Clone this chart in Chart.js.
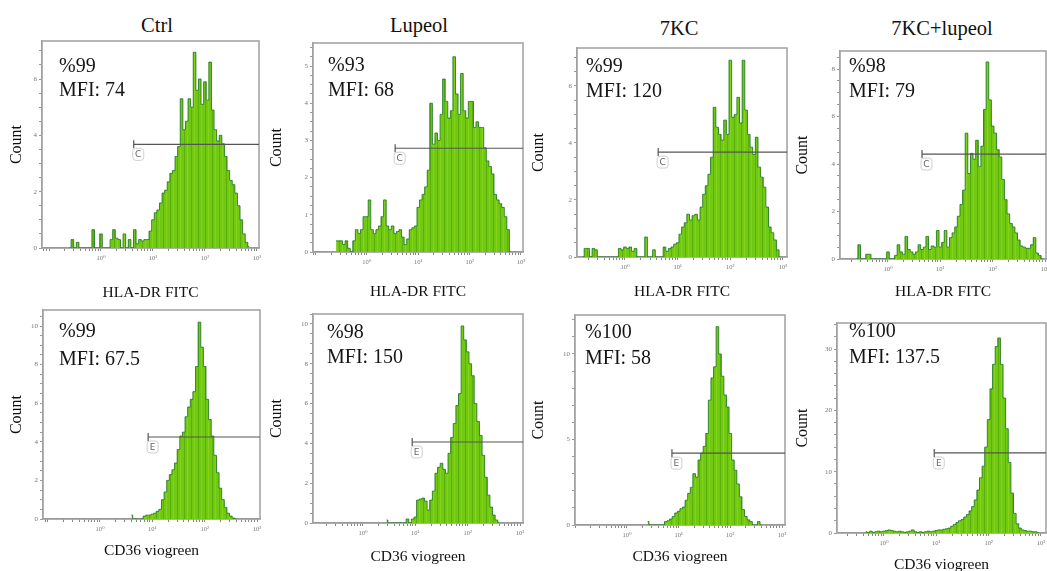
<!DOCTYPE html>
<html lang="en">
<head>
<meta charset="UTF-8">
<title>HLA-DR FITC / CD36 viogreen histograms</title>
<script src="https://cdn.jsdelivr.net/npm/chart.js"></script>
<style>
  html, body { margin: 0; padding: 0; background: #fff; overflow: hidden; }
  body { width: 1047px; height: 571px; position: relative; font-family: "Liberation Serif", "DejaVu Serif", serif; }
  canvas { position: absolute; }
  .group { position: absolute; font-size: 20.5px; color: #111; transform: translate(-50%, -50%); white-space: nowrap; }
</style>
</head>
<body>
<script>
// ---- data ----
const groups = ['Ctrl', 'Lupeol', '7KC', '7KC+lupeol'];
const markers = ['HLA-DR FITC', 'CD36 viogreen'];
const binWidth = 0.05; // in decades of fluorescence

const decadeTicks = [0, 1, 2, 3];
const decadeLabels = ['10⁰', '10¹', '10²', '10³'];

// HLA-DR FITC histograms (counts per bin, first bin at *Start)
const hlaStart = [-0.6, -0.6, -0.8, -0.6];
const hlaCtrl = [0, 0.3, 0, 0.2, 0, 0, 0, 0, 0, 0.65, 0, 0, 0.5, 0, 0, 0, 0.3, 0.65, 0.35, 0.3,
  0, 0.5, 0, 0.3, 0, 0.65, 0.15, 0.3, 0.25, 0.3, 0.3, 0.6, 1.0, 1.25, 1.35, 1.6, 1.95, 2.05, 2.35, 2.65,
  2.75, 3.25, 3.6, 5.3, 4.2, 4.5, 5.3, 5.0, 6.95, 5.6, 6.0, 5.1, 5.9, 5.25, 6.6, 4.9, 4.2, 3.8, 4.0, 3.7,
  3.25, 2.75, 2.4, 2.25, 1.95, 1.5, 1.0, 0.5, 0.2, 0.05];
const hlaLupeol = [0.3, 0.3, 0.3, 0.2, 0.3, 0.1, 0, 0.3, 0.6, 0.5, 0.6, 0.95, 0.95, 1.4, 0.6, 0.5, 0.6, 0.7, 0.95, 1.4,
  0.7, 0.6, 0.7, 0.5, 0.55, 0.6, 0.4, 0.2, 0.35, 0.6, 0.65, 0.7, 1.2, 1.4, 1.55, 1.75, 2.2, 4.0, 2.9, 3.2,
  3.0, 3.7, 4.65, 4.05, 3.6, 3.8, 5.25, 4.25, 3.7, 4.8, 3.8, 3.6, 4.05, 4.05, 3.35, 3.5, 3.35, 3.35, 2.8, 2.45,
  2.3, 2.1, 1.55, 1.4, 1.3, 1.2, 0.95, 0.6, 0];
const hla7kc = [0, 0.3, 0.3, 0, 0.3, 0.25, 0, 0, 0, 0, 0, 0, 0, 0, 0.3, 0.25, 0.35, 0.3, 0.35, 0.2,
  0.3, 0, 0, 0, 0.7, 0, 0, 0.25, 0, 0, 0, 0.35, 0.2, 0.3, 0.35, 0.45, 0.5, 0.8, 1.05, 1.2,
  1.5, 1.3, 1.45, 1.5, 1.3, 1.75, 2.2, 2.5, 2.9, 3.5, 5.25, 4.55, 4.3, 4.1, 4.8, 4.3, 6.9, 4.9, 5.0, 5.6,
  4.7, 6.9, 5.15, 4.3, 3.85, 3.6, 4.2, 3.15, 2.8, 2.45, 1.75, 1.05, 0.85, 0.6, 0.25, 0];
const hla7kcLupeol = [0, 0.6, 0, 0, 0.2, 0.2, 0, 0, 0, 0, 0, 0, 0.3, 0, 0, 0.15, 0.6, 0.3, 0.2, 0.95,
  0.4, 0.3, 0.2, 0.3, 0.6, 0.4, 0.5, 0.95, 0.4, 0.55, 0.5, 1.2, 0.5, 0.7, 1.2, 0.5, 0.9, 1.1, 1.35, 1.8,
  2.3, 2.9, 5.3, 3.6, 4.45, 4.2, 5.0, 3.9, 4.75, 6.3, 8.3, 6.7, 5.6, 5.3, 4.6, 4.3, 3.35, 2.5, 1.9, 1.5,
  1.35, 1.1, 0.8, 0.55, 0.5, 0.45, 0.45, 0.6, 0.9, 0.25, 0.15, 0];

// CD36 viogreen histograms
const cd36Start = [0.6, 0.45, 0.4, -0.35];
const cd36Ctrl = [0.2, 0, 0, 0, 0, 0.15, 0.2, 0.2, 0.25, 0.3, 0.4, 0.5, 1.0, 1.4, 2.0, 2.3, 2.55, 2.9, 3.6, 4.3,
  4.5, 5.3, 5.8, 6.2, 6.6, 7.9, 10.2, 8.9, 7.9, 6.2, 5.15, 4.3, 3.3, 2.4, 1.6, 1.0, 0.6, 0.3, 0.15, 0.05, 0];
const cd36Lupeol = [0.15, 0, 0, 0, 0, 0, 0, 0, 0.2, 0, 0.2, 0.3, 1.15, 1.2, 1.25, 1.1, 0.65, 1.15, 1.6, 2.5,
  2.8, 3.0, 2.7, 2.5, 3.5, 4.3, 5.0, 5.9, 6.5, 9.9, 9.2, 8.6, 8.0, 7.4, 6.0, 5.1, 4.4, 3.4, 2.3, 1.4,
  0.8, 0.4, 0.15, 0];
const cd367kc = [0.2, 0, 0, 0, 0, 0, 0, 0.2, 0.25, 0.35, 0.5, 0.7, 0.8, 0.95, 1.05, 1.45, 1.85, 2.2, 3.0, 2.8,
  3.8, 4.2, 4.6, 5.35, 7.3, 8.6, 9.25, 11.6, 10.0, 8.7, 7.6, 6.9, 5.35, 3.8, 3.2, 2.4, 1.65, 0.9, 0.5, 0.3,
  0.2, 0, 0, 0.2, 0];
const cd367kcLupeol = [0.2, 0.1, 0.3, 0.1, 0.2, 0.3, 0.2, 0.3, 0.4, 0.5, 0.4, 0.3, 0.2, 0.3, 0.2, 0.1, 0.2, 0.3, 0.5, 0.2,
  0.1, 0.2, 0.1, 0.2, 0.3, 0.2, 0.3, 0.4, 0.5, 0.5, 0.6, 0.7, 0.8, 1.1, 1.4, 1.7, 2.0, 2.2, 2.6, 3.0,
  3.6, 4.3, 5.4, 7.0, 9.0, 10.9, 14.0, 18.5, 23.5, 27.5, 30.4, 31.8, 27.5, 22.0, 17.0, 11.5, 6.5, 3.2, 1.5, 0.8,
  0.5, 0.4, 0.3, 0.3, 0.2, 0.2, 0];

const hlaSeries = [hlaCtrl, hlaLupeol, hla7kc, hla7kcLupeol];
const cd36Series = [cd36Ctrl, cd36Lupeol, cd367kc, cd367kcLupeol];

const hlaPercent = ['%99', '%93', '%99', '%98'];
const hlaMfi = ['74', '68', '120', '79'];
const cd36Percent = ['%99', '%98', '%100', '%100'];
const cd36Mfi = ['67.5', '150', '58', '137.5'];

// gate line: start (decades) and height (count)
const hlaGateStart = [0.63, 0.55, 0.63, 0.65];
const hlaGateLevel = [3.68, 2.79, 3.68, 4.42];
const cd36GateStart = [0.92, 0.94, 0.87, 0.96];
const cd36GateLevel = [4.25, 4.07, 4.2, 13.05];
const gateNames = ['C', 'E'];

// axis ranges
const xMin = [-1.135, -1.05, -0.911, -0.917, -1.089, -0.955, -1.006, -0.898];
const xMax = [3.04, 3.04, 3.076, 3.019, 3.057, 3.057, 3.058, 3.096];
const yMax = [7.35, 5.62, 7.33, 8.76, 10.83, 10.5, 12.28, 34.24];
const yMajor = [2, 1, 2, 2, 2, 2, 5, 10];
const yMinor = [0.5, 0.25, 0.5, 0.5, 0.5, 0.5, 1, 2];

// ---- layout (page pixels) ----
const boxes = [
  { l: 42, t: 41, r: 259, b: 248, countX: 17, xTitleY: 293 },
  { l: 313, t: 43, r: 523, b: 252, countX: 277, xTitleY: 292 },
  { l: 577, t: 48, r: 787, b: 257, countX: 539, xTitleY: 292 },
  { l: 840, t: 51, r: 1046, b: 259, countX: 803, xTitleY: 292 },
  { l: 43, t: 310, r: 260, b: 519, countX: 17, xTitleY: 551 },
  { l: 313, t: 314, r: 523, b: 523, countX: 277, xTitleY: 557 },
  { l: 575, t: 315, r: 785, b: 525, countX: 539, xTitleY: 557 },
  { l: 837, t: 323, r: 1046, b: 533, countX: 803, xTitleY: 565 }
];
const textOffsets = [
  [17, 26, 50], [15, 23, 48], [9, 19, 44], [9, 16, 41],
  [16, 22, 50], [14, 19, 44], [10, 18, 44], [12, 9, 35]
];
const groupTitlePos = [[157, 25], [419, 25], [679, 28], [942, 28]];

const serif = '"Liberation Serif", "DejaVu Serif", serif';

groups.forEach((g, i) => {
  const d = document.createElement('div');
  d.className = 'group';
  d.textContent = g;
  d.style.left = groupTitlePos[i][0] + 'px';
  d.style.top = groupTitlePos[i][1] + 'px';
  document.body.appendChild(d);
});

// streaky green fill, like the cytometer's overlaid event bars
function streakFill() {
  const c = document.createElement('canvas');
  c.width = 7;
  c.height = 4;
  const g = c.getContext('2d');
  g.fillStyle = '#72c912';
  g.fillRect(0, 0, 7, 4);
  g.fillStyle = '#5bb00e';
  g.fillRect(2, 0, 1, 4);
  g.fillStyle = '#84d41c';
  g.fillRect(5, 0, 1, 4);
  return g.createPattern(c, 'repeat');
}

// frame around the plot area + gate marker + percent / MFI text
const panelDecor = {
  id: 'panelDecor',
  beforeDatasetsDraw(chart) {
    const { ctx, chartArea: a } = chart;
    ctx.save();
    ctx.strokeStyle = '#a5a5a5';
    ctx.lineWidth = 1.6;
    ctx.strokeRect(a.left, a.top, a.right - a.left, a.bottom - a.top);
    ctx.restore();
  },
  afterDatasetsDraw(chart, args, opts) {
    const { ctx, chartArea: a, scales } = chart;
    const gx = scales.x.getPixelForValue(opts.gateX);
    const gy = scales.y.getPixelForValue(opts.gateY);
    ctx.save();
    ctx.strokeStyle = '#555';
    ctx.lineWidth = 1.2;
    ctx.beginPath();
    ctx.moveTo(gx, gy - 4);
    ctx.lineTo(gx, gy + 4);
    ctx.stroke();
    ctx.strokeStyle = '#cfcfcf';
    ctx.lineWidth = 1;
    ctx.fillStyle = 'rgba(255,255,255,0.85)';
    ctx.beginPath();
    ctx.roundRect(gx - 1, gy + 4, 11, 12, 3);
    ctx.fill();
    ctx.stroke();
    ctx.fillStyle = '#666';
    ctx.font = '9px "DejaVu Sans", sans-serif';
    ctx.textAlign = 'center';
    ctx.textBaseline = 'middle';
    ctx.fillText(opts.gateName, gx + 4.5, gy + 10.5);

    ctx.fillStyle = '#151515';
    ctx.font = '20px ' + serif;
    ctx.textAlign = 'left';
    ctx.fillText(opts.percent, a.left + opts.off[0], a.top + opts.off[1]);
    ctx.fillText('MFI: ' + opts.mfi, a.left + opts.off[0], a.top + opts.off[2]);
    ctx.restore();
  }
};

function isMultiple(v, step) {
  return Math.abs(v / step - Math.round(v / step)) < 1e-6;
}

function drawPanel(p, counts, start, markerName, percent, mfi, gateX, gateY, gateName) {
  const box = boxes[p];
  const yTitleSize = 16, xTitleSize = 15.5;
  const canvasLeft = Math.round(box.countX - yTitleSize * 1.2 / 2);
  const padTop = 8, padRight = 3;
  const canvasTop = box.t - padTop;
  const canvasBottom = Math.round(box.xTitleY + xTitleSize * 1.2 / 2);
  const W = box.r + padRight - canvasLeft;
  const H = canvasBottom - canvasTop;
  const yW = box.l - canvasLeft;
  const xH = canvasBottom - box.b;

  const canvas = document.createElement('canvas');
  canvas.width = W;
  canvas.height = H;
  canvas.style.left = canvasLeft + 'px';
  canvas.style.top = canvasTop + 'px';
  canvas.style.width = W + 'px';
  canvas.style.height = H + 'px';
  document.body.appendChild(canvas);

  const hist = counts.map((c, i) => ({ x: start + i * binWidth, y: c }));

  // decade ticks plus log minor ticks inside each decade
  const xTicks = [];
  for (let dec = -2; dec <= 3; dec++) {
    for (let k = 1; k <= 9; k++) {
      const v = dec + Math.log10(k);
      if (v >= xMin[p] && v <= xMax[p]) xTicks.push(k === 1 ? dec : v);
    }
  }

  new Chart(canvas, {
    type: 'line',
    data: {
      datasets: [
        {
          data: [{ x: gateX, y: gateY }, { x: xMax[p], y: gateY }],
          borderColor: '#555',
          borderWidth: 1.2,
          pointRadius: 0,
          fill: false
        },
        {
          data: hist,
          stepped: 'middle',
          fill: 'origin',
          backgroundColor: streakFill(),
          borderColor: 'rgba(28,115,35,0.85)',
          borderWidth: 1,
          pointRadius: 0
        }
      ]
    },
    options: {
      responsive: false,
      animation: false,
      events: [],
      layout: { padding: { top: padTop, right: padRight, left: 0, bottom: 0 } },
      plugins: {
        legend: { display: false },
        tooltip: { enabled: false },
        panelDecor: { gateX, gateY, gateName, percent, mfi, off: textOffsets[p] }
      },
      scales: {
        x: {
          type: 'linear',
          min: xMin[p],
          max: xMax[p],
          afterBuildTicks: s => { s.ticks = xTicks.map(v => ({ value: v })); },
          afterFit: s => { s.height = xH; s.paddingLeft = 0; s.paddingRight = 0; },
          ticks: {
            autoSkip: false,
            maxRotation: 0,
            padding: 3,
            color: '#777',
            font: { size: 6.5, family: serif },
            callback: v => {
              const k = decadeTicks.indexOf(v);
              return k >= 0 ? decadeLabels[k] : '';
            }
          },
          grid: { drawOnChartArea: false, drawTicks: true, tickLength: 3, color: '#888' },
          border: { display: true, color: '#666', width: 1.2 },
          title: {
            display: true,
            text: markerName,
            color: '#111',
            font: { size: xTitleSize, family: serif },
            padding: { top: 0, bottom: 0 }
          }
        },
        y: {
          min: 0,
          max: yMax[p],
          afterFit: s => { s.width = yW; s.paddingTop = 0; s.paddingBottom = 0; },
          ticks: {
            stepSize: yMinor[p],
            includeBounds: false,
            autoSkip: false,
            padding: 2,
            color: '#777',
            font: { size: 7, family: serif },
            callback: v => isMultiple(v, yMajor[p]) ? String(Math.round(v)) : ''
          },
          grid: { drawOnChartArea: false, drawTicks: true, tickLength: 3, color: '#999' },
          border: { display: true, color: '#999', width: 1.2 },
          title: {
            display: true,
            text: 'Count',
            color: '#111',
            font: { size: yTitleSize, family: serif },
            padding: { top: 0, bottom: 0 }
          }
        }
      }
    },
    plugins: [panelDecor]
  });
}

for (let i = 0; i < 4; i++) {
  drawPanel(i, hlaSeries[i], hlaStart[i], markers[0], hlaPercent[i], hlaMfi[i],
    hlaGateStart[i], hlaGateLevel[i], gateNames[0]);
  drawPanel(i + 4, cd36Series[i], cd36Start[i], markers[1], cd36Percent[i], cd36Mfi[i],
    cd36GateStart[i], cd36GateLevel[i], gateNames[1]);
}
</script>
</body>
</html>
